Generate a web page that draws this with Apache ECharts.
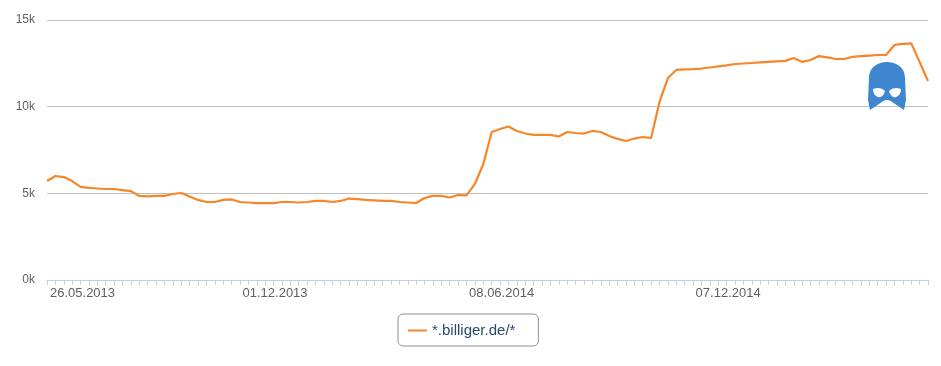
<!DOCTYPE html>
<html>
<head>
<meta charset="utf-8">
<script src="https://cdn.jsdelivr.net/npm/echarts@6/dist/echarts.min.js"></script>
<style>
html,body{margin:0;padding:0;background:#fff;}
#chart{width:941px;height:366px;}
</style>
</head>
<body>
<div id="chart"></div>
<script>
const seriesName = '*.billiger.de/*';
const tickLabels = ['26.05.2013', '01.12.2013', '08.06.2014', '07.12.2014'];
const tickStep = 27;
const values = [
5710, 6000, 5940, 5710, 5370, 5310, 5280, 5250, 5250, 5190,
5130, 4850, 4820, 4850, 4850, 4960, 5020, 4820, 4620, 4500,
4500, 4620, 4650, 4500, 4470, 4440, 4440, 4440, 4500, 4500,
4470, 4500, 4560, 4560, 4500, 4560, 4700, 4670, 4620, 4590,
4560, 4560, 4500, 4470, 4440, 4730, 4850, 4850, 4760, 4900,
4880, 5540, 6690, 8540, 8710, 8860, 8600, 8450, 8370, 8370,
8370, 8280, 8540, 8480, 8450, 8600, 8540, 8310, 8140, 8020,
8160, 8250, 8190, 10270, 11650, 12120, 12150, 12170, 12200, 12260,
12320, 12380, 12460, 12490, 12520, 12550, 12580, 12610, 12640, 12810,
12580, 12690, 12920, 12840, 12750, 12750, 12870, 12920, 12950, 12980,
12980, 13560, 13620, 13650, 12580, 11480
];

const categories = values.map(function(v, i){
  return (i % tickStep === 0 && tickLabels[i / tickStep]) ? tickLabels[i / tickStep] : String(i);
});

const maskSvg = '<svg xmlns="http://www.w3.org/2000/svg" width="42" height="49" viewBox="0 0 42 49">' +
  '<path d="M3,16 C3,5 12,0 21,0 C30,0 39,5 39,16 L40,38 L38,48 L29,42 C26,40 24,38 21,38 C18,38 16,40 13,42 L4,48 L2,38 Z" fill="#3F86D1"/>' +
  '<path d="M7,27 C12,25 16,26 19,29 C18,33 15,36 12,35 C9,34 7,31 7,27 Z" fill="#FFFFFF"/>' +
  '<path d="M35,27 C30,25 26,26 23,29 C24,33 27,36 30,35 C33,34 35,31 35,27 Z" fill="#FFFFFF"/>' +
  '</svg>';
const maskUrl = 'data:image/svg+xml;charset=utf-8,' + encodeURIComponent(maskSvg);

const chart = echarts.init(document.getElementById('chart'), null, {renderer:'canvas'});
const font = '"Lucida Grande", "Liberation Sans", "DejaVu Sans", Arial, sans-serif';
chart.setOption({
  animation: false,
  textStyle: {fontFamily: font},
  grid: {left: 47, right: 13, top: 20, bottom: 86, containLabel: false},
  xAxis: {
    type: 'category',
    data: categories,
    boundaryGap: false,
    axisLine: {lineStyle: {color: '#C0D0E0', width: 1}},
    axisTick: {show: true, interval: 0, length: 5, lineStyle: {color: '#C0D0E0'}},
    axisLabel: {
      interval: function(i){ return i % tickStep === 0; },
      color: '#606060', fontSize: 13, margin: 7,
      alignMinLabel: 'left', fontFamily: font,
      padding: [0, 0, 0, 3]
    },
    splitLine: {show: false}
  },
  yAxis: {
    type: 'value',
    min: 0, max: 15000, interval: 5000,
    axisLine: {show: false},
    axisTick: {show: false},
    axisLabel: {
      color: '#606060', fontSize: 12, margin: 12, fontFamily: font,
      formatter: function(v){ return (v/1000) + 'k'; }
    },
    splitLine: {lineStyle: {color: '#C0C0C0', width: 1}}
  },
  legend: {
    show: true,
    bottom: 20,
    left: 398,
    icon: 'rect',
    itemWidth: 19,
    itemHeight: 2,
    itemGap: 10,
    padding: [9, 23, 8, 10],
    borderColor: '#909090',
    borderWidth: 1,
    borderRadius: 5,
    textStyle: {color: '#274b6d', fontSize: 15, fontFamily: font},
    data: [seriesName]
  },
  series: [{
    name: seriesName,
    type: 'line',
    data: values,
    showSymbol: false,
    symbol: 'none',
    lineStyle: {color: '#F7862A', width: 2.2},
    itemStyle: {color: '#F7862A'},
    smooth: false
  }],
  graphic: [{
    type: 'image',
    left: 866,
    top: 62,
    z: 10,
    style: {image: maskUrl, width: 42, height: 49}
  }]
});
</script>
</body>
</html>
